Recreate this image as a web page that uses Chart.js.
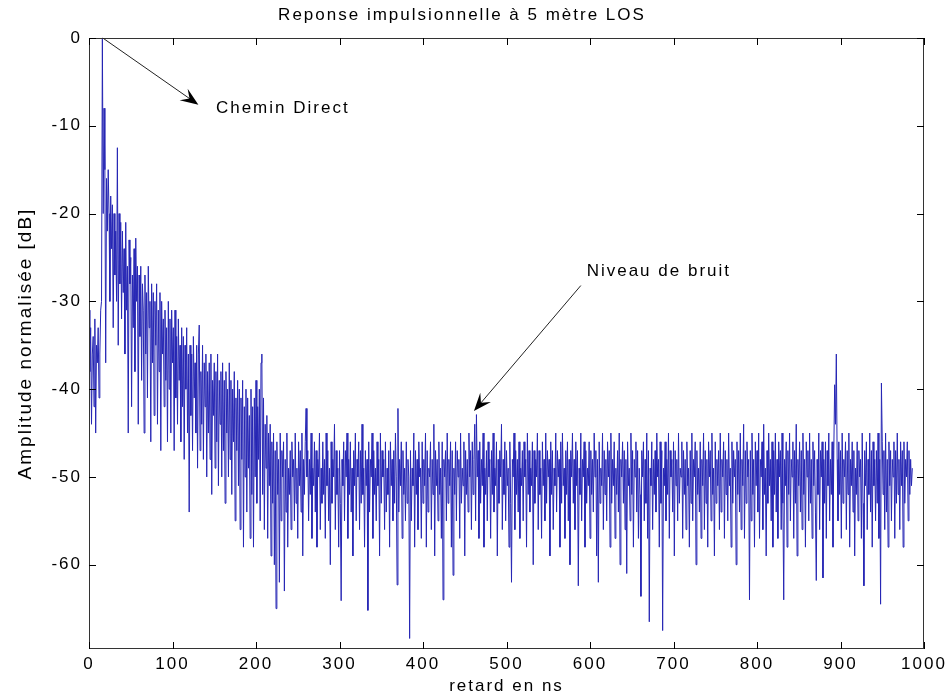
<!DOCTYPE html>
<html lang="fr">
<head>
<meta charset="utf-8">
<title>Reponse impulsionnelle</title>
<script src="https://cdn.jsdelivr.net/npm/chart.js@4.4.1/dist/chart.umd.min.js"></script>
<style>
  html, body { margin: 0; padding: 0; background: #fff; }
  #conteneur { width: 952px; height: 699px; }
</style>
</head>
<body>
<div id="conteneur"><canvas id="graficoReponse"></canvas></div>
<script>
// echantillonnage du retard (ns)
const pasNs = 1;

// amplitude normalisee (dB), un point par ns a partir de 0 (20 ns par ligne)
const amplitudeDb = [
    -31, -38, -33, -44, -36, -34, -42, -32, -45, -35, -37, -33, -41, -36, -31, -30, 0, -20, -8, -15,
    -37, -16, -22, -15, -20, -30, -18, -24, -19, -33, -20, -27, -22, -30, -12.5, -35, -20, -28, -21, -32,
    -22, -29, -24, -36, -21, -31, -26, -45, -23, -28, -25, -42, -27, -33, -24, -38, -22.8, -30, -26, -44,
    -27, -34, -26, -39, -28, -31, -45, -27, -36, -29, -41, -26, -33, -30, -46, -28, -37, -29, -43, -30,
    -35, -28, -44, -31, -38, -29, -47, -30, -36, -32, -42, -31, -39, -33, -46, -30, -40, -32, -45, -31,
    -37, -33, -47, -31, -41, -34, -44, -32, -39, -35, -46, -33, -42, -34, -48, -35, -40, -33, -45, -36,
    -54, -35, -43, -36, -47, -34, -41, -37, -45, -35, -49, -36, -32.7, -47, -38, -44, -35, -48, -37, -42,
    -36, -50, -38, -45, -37, -48, -36, -52, -39, -43, -37, -49, -38, -46, -36, -51, -39, -44, -38, -50,
    -37, -47, -39, -53, -38, -45, -40, -50, -37, -48, -39, -52, -40, -46, -38, -55, -41, -47, -39, -51,
    -40, -56, -41, -48, -39, -58, -42, -50, -40, -54, -41, -49, -43, -57, -40, -52, -42, -58, -41, -50,
    -39, -53, -42, -48, -40, -55, -37, -36, -52, -41, -56, -44, -49, -43, -57, -45, -51, -44, -59, -46,
    -53, -45, -60, -47, -65, -46, -52, -48, -62, -45, -55, -47, -50, -46, -63, -48, -54, -45, -58, -49,
    -52, -47, -56, -46, -50, -48, -55, -45, -53, -49, -57, -46, -51, -47, -54, -45, -59, -48, -52, -46,
    -42.2, -50, -47, -55, -48, -52, -45, -57, -49, -51, -46, -54, -47, -58, -48, -50, -45, -56, -49, -53,
    -46, -52, -48, -57, -45, -51, -47, -55, -49, -60, -46, -53, -48, -50, -44, -56, -47, -52, -49, -58,
    -47, -53, -64.1, -48, -51, -46, -55, -47, -50, -45, -57, -48, -52, -46, -54, -49, -59, -47, -51, -45,
    -55, -48, -50, -46, -56, -47, -53, -44, -52, -49, -58, -47, -51, -48, -65.2, -46, -54, -48, -50, -45,
    -57, -47, -52, -49, -55, -46, -51, -48, -59, -45, -53, -47, -50, -48, -56, -46, -54, -49, -52, -47,
    -58, -46, -51, -48, -55, -47, -53, -45, -50, -62.3, -42.2, -54, -48, -51, -46, -57, -47, -52, -49, -55,
    -46, -53, -48, -50, -68.4, -47, -55, -49, -51, -45, -58, -47, -52, -48, -56, -46, -50, -49, -57, -46,
    -53, -48, -51, -45, -58, -47, -54, -49, -50, -46, -56, -48, -52, -44, -59, -47, -51, -48, -55, -46,
    -52, -49, -57, -46, -64, -48, -50, -47, -55, -45, -53, -48, -51, -46, -58, -47, -61.2, -49, -52, -46,
    -55, -47, -50, -48, -57, -45, -53, -49, -51, -46, -59, -47, -52, -48, -54, -45, -50, -47, -56, -46,
    -52, -48, -44, -55, -42.9, -50, -47, -57, -46, -53, -48, -51, -45, -58, -49, -52, -47, -55, -46, -50,
    -48, -57, -47, -52, -45, -54, -49, -51, -46, -59, -48, -53, -47, -50, -44, -56, -48, -52, -46, -55,
    -47, -51, -49, -58, -46, -53, -62, -48, -50, -45, -56, -47, -52, -48, -54, -46, -57, -49, -51, -47,
    -55, -46, -50, -48, -58, -45, -52, -47, -54, -49, -51, -46, -60, -47, -53, -48, -50, -45, -56, -47,
    -52, -49, -57, -46, -51, -48, -55, -45, -53, -47, -50, -48, -59, -46, -52, -47, -56, -49, -51, -45,
    -54, -47, -50, -48, -58, -46, -53, -45, -51, -49, -57, -47, -52, -46, -55, -48, -60, -47, -50, -45,
    -53, -48, -56, -46, -51, -47, -62.4, -49, -52, -45, -55, -48, -50, -46, -58, -47, -53, -49, -51, -46,
    -57, -47, -52, -48, -54, -45, -50, -47, -59, -48, -62, -46, -53, -49, -51, -45, -56, -47, -52, -48,
    -55, -46, -50, -47, -58, -45, -53, -48, -51, -46, -57, -49, -52, -47, -54, -45, -60, -48, -50, -46,
    -53, -47, -56, -48, -61, -46, -51, -49, -55, -45, -52, -47, -58, -48, -50, -46, -54, -47, -57, -49,
    -52, -63.6, -47, -50, -46, -55, -48, -53, -45, -57, -47, -66.5, -49, -51, -46, -56, -48, -52, -47, -54,
    -45, -50, -48, -58, -46, -53, -47, -67.5, -49, -51, -46, -55, -48, -52, -45, -57, -47, -50, -48, -54,
    -46, -59, -47, -51, -48, -55, -45, -53, -49, -50, -46, -57, -47, -52, -48, -56, -46, -51, -49, -58,
    -47, -53, -45, -55, -48, -50, -46, -60, -47, -52, -49, -54, -46, -57, -48, -51, -45, -56, -47, -53,
    -48, -58, -46, -50, -47, -55, -45, -52, -49, -59, -46, -53, -48, -51, -47, -56, -45, -54, -48, -50,
    -46, -57, -47, -52, -48, -55, -45, -51, -49, -58, -46, -53, -47, -50, -48, -60, -46, -52, -47, -54,
    -45, -56, -48, -51, -44, -57, -47, -53, -46, -50, -48, -64, -47, -55, -45, -52, -48, -58, -46, -51,
    -47, -54, -45, -57, -48, -50, -46, -56, -44, -52, -49, -59, -47, -53, -45, -51, -48, -55, -46, -58,
    -47, -52, -45, -54, -48, -57, -46, -50, -47, -56, -45, -53, -64, -48, -51, -46, -58, -47, -52, -45,
    -55, -48, -50, -46, -57, -47, -53, -44, -59, -48, -51, -46, -54, -47, -56, -45, -52, -48, -58, -46,
    -50, -47, -55, -45, -53, -48, -57, -46, -51, -47, -54, -61.8, -48, -52, -45, -56, -47, -50, -46, -61.5,
    -48, -53, -46, -57, -47, -51, -45, -55, -48, -52, -46, -58, -47, -39.5, -44, -36, -48, -55, -46, -52,
    -47, -57, -45, -53, -48, -50, -46, -56, -47, -52, -45, -58, -48, -51, -46, -54, -47, -59, -49, -52,
    -46, -55, -47, -50, -48, -57, -45, -53, -62.4, -47, -51, -46, -56, -48, -52, -45, -54, -47, -58, -46,
    -51, -48, -55, -47, -53, -45, -57, -48, -64.5, -39.3, -46, -52, -47, -56, -45, -54, -48, -58, -46, -51,
    -47, -55, -48, -50, -46, -57, -47, -53, -45, -52, -48, -56, -46, -51, -47, -58, -46, -53, -48, -50,
    -46, -55, -47, -52, -48, -51, -49
];

const graduationsX = [0, 100, 200, 300, 400, 500, 600, 700, 800, 900, 1000];
const graduationsY = [-60, -50, -40, -30, -20, -10, 0];

const policeTexte = "'Liberation Sans', Arial, sans-serif";

function dessinerFleche(ctx, x1, y1, x2, y2) {
    const ang = Math.atan2(y2 - y1, x2 - x1);
    const c = Math.cos(ang), s = Math.sin(ang);
    const longueur = 18, demiLargeur = 7;
    ctx.beginPath();
    ctx.moveTo(x1, y1);
    ctx.lineTo(x2 - c * 8, y2 - s * 8);
    ctx.stroke();
    ctx.beginPath();
    ctx.moveTo(x2, y2);
    ctx.lineTo(x2 - longueur * c + demiLargeur * s, y2 - longueur * s - demiLargeur * c);
    ctx.lineTo(x2 - 0.6 * longueur * c, y2 - 0.6 * longueur * s);
    ctx.lineTo(x2 - longueur * c - demiLargeur * s, y2 - longueur * s + demiLargeur * c);
    ctx.closePath();
    ctx.fill();
}

// espacement des lettres (texte large de la figure d'origine)
const espacementTexte = {
    id: 'espacementTexte',
    beforeLayout(chart) { chart.ctx.letterSpacing = '2px'; },
    beforeDraw(chart) { chart.ctx.letterSpacing = '2px'; }
};

// cadre, graduations interieures et annotations
const cadreEtAnnotations = {
    id: 'cadreEtAnnotations',
    afterDraw(chart) {
        const { ctx, chartArea: a, scales: { x, y } } = chart;
        ctx.save();
        ctx.strokeStyle = '#333';
        ctx.lineWidth = 1;
        ctx.strokeRect(Math.round(a.left) + 0.5, Math.round(a.top) + 0.5,
            Math.round(a.width) - 1, Math.round(a.height) - 1);

        ctx.strokeStyle = '#000';
        ctx.beginPath();
        graduationsX.forEach(v => {
            const px = Math.round(x.getPixelForValue(v)) + 0.5;
            ctx.moveTo(px, a.bottom); ctx.lineTo(px, a.bottom - 7);
            ctx.moveTo(px, a.top); ctx.lineTo(px, a.top + 7);
        });
        graduationsY.forEach(v => {
            const py = Math.round(y.getPixelForValue(v)) + 0.5;
            ctx.moveTo(a.left, py); ctx.lineTo(a.left + 7, py);
            ctx.moveTo(a.right, py); ctx.lineTo(a.right - 7, py);
        });
        ctx.stroke();

        // Chemin Direct
        ctx.fillStyle = '#000';
        ctx.strokeStyle = '#222';
        dessinerFleche(ctx, x.getPixelForValue(16.5), y.getPixelForValue(0),
            x.getPixelForValue(131), y.getPixelForValue(-7.6));
        // Niveau de bruit
        dessinerFleche(ctx, x.getPixelForValue(589), y.getPixelForValue(-28.2),
            x.getPixelForValue(461), y.getPixelForValue(-42.5));

        ctx.font = '17px ' + policeTexte;
        ctx.letterSpacing = '2px';
        ctx.textAlign = 'left';
        ctx.textBaseline = 'middle';
        ctx.fillText('Chemin Direct', x.getPixelForValue(152), y.getPixelForValue(-8));
        ctx.fillText('Niveau de bruit', x.getPixelForValue(596), y.getPixelForValue(-26.6));
        ctx.restore();
    }
};

const points = amplitudeDb.map((v, i) => ({ x: i * pasNs, y: v }));

new Chart(document.getElementById('graficoReponse').getContext('2d'), {
    type: 'line',
    data: {
        datasets: [{
            data: points,
            borderColor: '#2626b4',
            borderWidth: 1,
            pointRadius: 0,
            tension: 0,
            fill: false
        }]
    },
    options: {
        animation: false,
        responsive: true,
        maintainAspectRatio: false,
        layout: { padding: { left: 0, right: 28, top: 0, bottom: 0 } },
        scales: {
            x: {
                type: 'linear',
                min: 0,
                max: 1000,
                afterBuildTicks: scale => { scale.ticks = graduationsX.map(v => ({ value: v })); },
                afterFit: scale => { scale.height = 50; },
                grid: { display: false, drawTicks: false },
                border: { display: false },
                ticks: {
                    color: '#000',
                    padding: 5,
                    maxRotation: 0,
                    callback: v => String(v),
                    font: { family: policeTexte, size: 17 }
                },
                title: {
                    display: true,
                    text: 'retard en ns',
                    color: '#000',
                    padding: { top: 0, bottom: 2 },
                    font: { family: policeTexte, size: 17 }
                }
            },
            y: {
                min: -69.6,
                max: 0,
                afterBuildTicks: scale => { scale.ticks = graduationsY.map(v => ({ value: v })); },
                afterFit: scale => { scale.width = 89; },
                grid: { display: false, drawTicks: false },
                border: { display: false },
                ticks: {
                    color: '#000',
                    padding: 7,
                    callback: v => String(v),
                    font: { family: policeTexte, size: 17 }
                },
                title: {
                    display: true,
                    text: 'Amplitude normalisée [dB]',
                    color: '#000',
                    padding: { top: 14, bottom: 0 },
                    font: { family: policeTexte, size: 19 }
                }
            }
        },
        plugins: {
            legend: { display: false },
            tooltip: { enabled: false },
            title: {
                display: true,
                text: 'Reponse impulsionnelle à 5 mètre LOS',
                color: '#000',
                padding: { top: 5, bottom: 12.6 },
                font: { family: policeTexte, size: 17, weight: 'normal' }
            }
        }
    },
    plugins: [espacementTexte, cadreEtAnnotations]
});
</script>
</body>
</html>
